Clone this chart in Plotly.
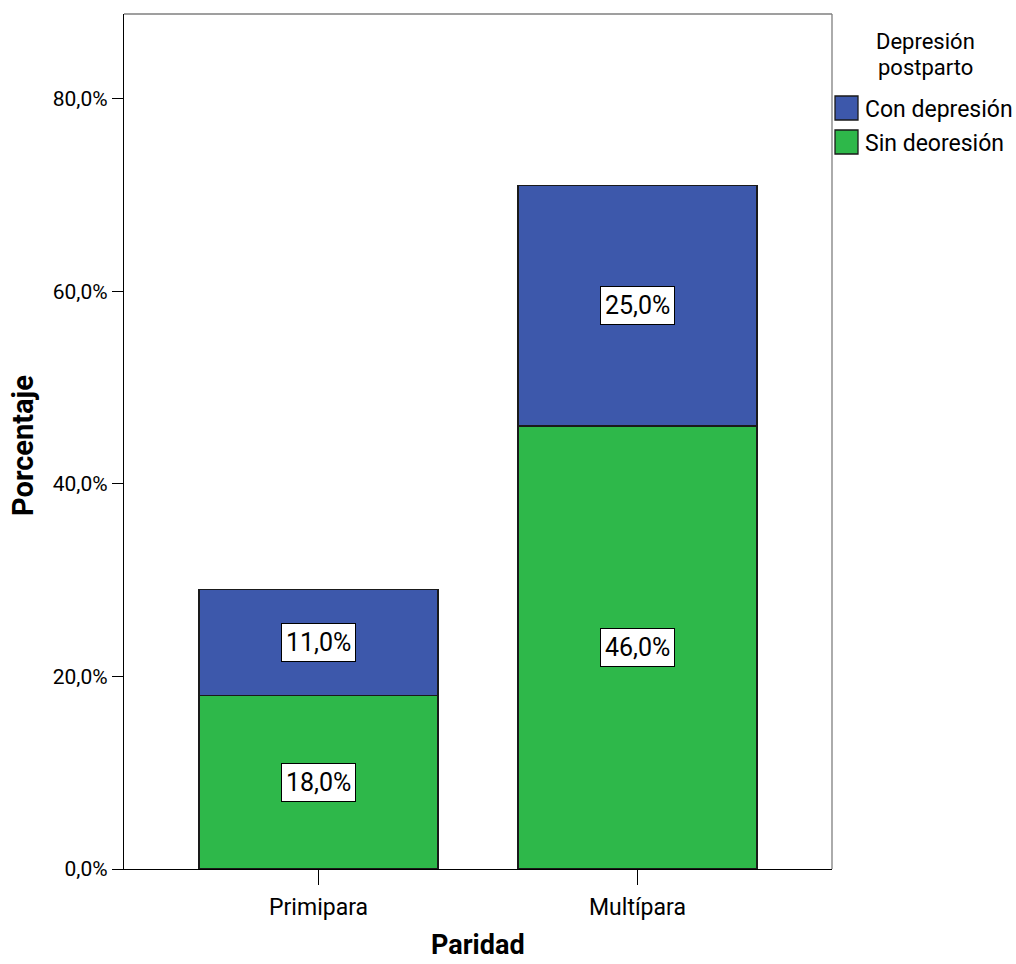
import plotly.graph_objects as go

# Data: percentage of women by parity and postpartum depression
categorias = ["Primipara", "Multípara"]
sin_depresion = [18.0, 46.0]
con_depresion = [11.0, 25.0]
series = [
    ("Sin deoresión", sin_depresion, "#2EB84A"),
    ("Con depresión", con_depresion, "#3D58AB"),
]
y_ticks = [0, 20, 40, 60, 80]
legend_title = ["Depresión", "postparto"]
x_title = "Paridad"
y_title = "Porcentaje"

FONT = "Roboto, Arial, sans-serif"

# plot area in pixels (used to place the hand-drawn legend and titles)
W, H = 1016, 964
ML, MR, MT, MB = 124, 184, 14, 95
PW, PH = W - ML - MR, H - MT - MB


def px(x):
    return (x - ML) / PW


def py(y):
    return (H - MB - y) / PH


def pct(v):
    return f"{v:.1f}%".replace(".", ",")


fig = go.Figure()
for nombre, valores, color in series:
    fig.add_trace(go.Bar(
        x=categorias, y=valores, name=nombre, width=0.75,
        marker=dict(color=color, line=dict(color="#1a1a1a", width=1.3)),
        showlegend=False,
    ))

# Value labels in white boxes centred on each segment
base = [0.0] * len(categorias)
for nombre, valores, color in series:
    for i, v in enumerate(valores):
        fig.add_annotation(
            x=categorias[i], y=base[i] + v / 2, text=pct(v), showarrow=False,
            font=dict(family=FONT, size=25, color="black"),
            bgcolor="white", bordercolor="black", borderwidth=1, borderpad=4,
        )
        base[i] += v

# Grey frame on the top and right of the plot area
fig.add_shape(type="line", xref="paper", yref="paper", x0=0, x1=1, y0=1, y1=1,
              line=dict(color="#7f7f7f", width=1.3))
fig.add_shape(type="line", xref="paper", yref="paper", x0=1, x1=1, y0=0, y1=1,
              line=dict(color="#7f7f7f", width=1.3))

# Axis titles
fig.add_annotation(xref="paper", yref="paper", x=px(478), y=py(963),
                   text=f"<b>{x_title}</b>", showarrow=False,
                   xanchor="center", yanchor="bottom",
                   font=dict(family=FONT, size=27, color="black"))
fig.add_annotation(xref="paper", yref="paper", x=px(23), y=py(446),
                   text=f"<b>{y_title}</b>", showarrow=False, textangle=-90,
                   xanchor="center", yanchor="middle",
                   font=dict(family=FONT, size=29, color="black"))

# Legend: centred title and large swatches
for k, linea in enumerate(legend_title):
    fig.add_annotation(xref="paper", yref="paper", x=px(925), y=py(42 + 26 * k),
                       text=linea, showarrow=False, xanchor="center", yanchor="middle",
                       font=dict(family=FONT, size=22, color="black"))
for k, (nombre, valores, color) in enumerate(reversed(series)):
    yc = 108 + 34 * k
    fig.add_shape(type="rect", xref="paper", yref="paper",
                  x0=px(835), x1=px(858), y0=py(yc - 12), y1=py(yc + 12),
                  fillcolor=color, line=dict(color="#1a1a1a", width=1.3))
    fig.add_annotation(xref="paper", yref="paper", x=px(863), y=py(yc + 1),
                       text=nombre, showarrow=False, xanchor="left", yanchor="middle",
                       font=dict(family=FONT, size=23, color="black"))

fig.update_layout(
    barmode="stack",
    width=W, height=H,
    margin=dict(l=ML, r=MR, t=MT, b=MB),
    paper_bgcolor="white", plot_bgcolor="white",
    font=dict(family=FONT, size=16, color="black"),
    showlegend=False,
    xaxis=dict(
        range=[-0.61, 1.61], automargin=False,
        showline=True, linecolor="black", linewidth=1.3,
        ticks="outside", ticklen=15, tickcolor="black", tickwidth=1.3,
        ticklabelstandoff=2,
        tickfont=dict(family=FONT, size=23),
        showgrid=False,
    ),
    yaxis=dict(
        range=[0, 88.8], automargin=False,
        tickvals=y_ticks, ticktext=[pct(v) for v in y_ticks],
        showline=True, linecolor="black", linewidth=1.3,
        ticks="outside", ticklen=11, tickcolor="black", tickwidth=1.3,
        tickfont=dict(family=FONT, size=21),
        showgrid=False, zeroline=False,
    ),
)

fig.write_html("out.html")
